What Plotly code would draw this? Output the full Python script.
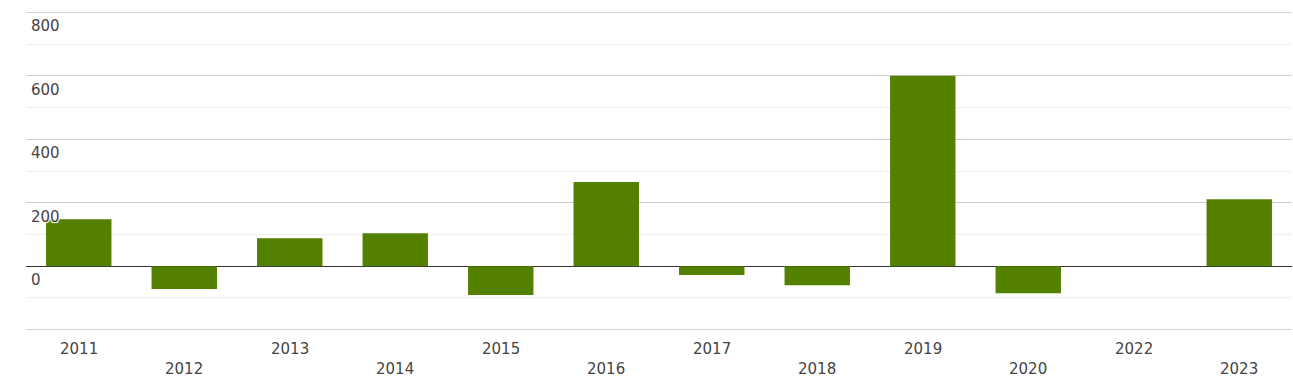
import plotly.graph_objects as go

years = ["2011", "2012", "2013", "2014", "2015", "2016", "2017", "2018", "2019", "2020", "2022", "2023"]
values = [148, -72, 88, 104, -91, 265, -28, -60, 600, -85, 0, 211]
y_ticks = [0, 200, 400, 600, 800]
y_range = [-200, 800]

bar_color = "#548000"
font_family = "DejaVu Sans, Verdana, sans-serif"

fig = go.Figure()
fig.add_trace(go.Bar(x=years, y=values, marker=dict(color=bar_color, line=dict(width=0)), width=0.62))

halo = "1px 1px 1px #fff, -1px -1px 1px #fff, 1px -1px 1px #fff, -1px 1px 1px #fff"
annotations = []
for v in y_ticks:
    annotations.append(dict(x=0, xref="paper", y=v, yref="y", text=str(v), showarrow=False,
                            xanchor="left", yanchor="middle", xshift=3, yshift=-14,
                            font=dict(family=font_family, size=15, color="#444", shadow=halo)))
for i, yr in enumerate(years):
    annotations.append(dict(x=i, xref="x", y=0, yref="paper", text=yr, showarrow=False,
                            xanchor="center", yanchor="middle", yshift=-19 - (20 if i % 2 else 0),
                            font=dict(family=font_family, size=15, color="#444")))

shapes = [dict(type="line", xref="paper", x0=0, x1=1, yref="y", y0=v, y1=v,
               line=dict(color="#cccccc", width=1), layer="below") for v in y_range]

fig.update_layout(
    width=1293, height=384,
    margin=dict(l=26, r=1, t=12, b=54),
    paper_bgcolor="white", plot_bgcolor="white",
    showlegend=False,
    bargap=0.38,
    annotations=annotations,
    shapes=shapes,
    xaxis=dict(type="category", showticklabels=False, showgrid=False, zeroline=False,
               range=[-0.5, len(years) - 0.5]),
    yaxis=dict(range=[-201, 801], tickvals=[-200, 0, 200, 400, 600, 800], showticklabels=False,
               showgrid=True, gridcolor="#cccccc", gridwidth=1,
               zeroline=True, zerolinecolor="#333333", zerolinewidth=1,
               minor=dict(tickvals=[-100, 100, 300, 500, 700], showgrid=True, gridcolor="#eeeeee", gridwidth=1)),
)

fig.write_html("out.html", config={"displayModeBar": False})
with open("out.html", encoding="utf-8") as f:
    html = f.read()
html = html.replace("<head>", "<head><style>html,body{margin:0;padding:0;overflow:hidden;}</style>", 1)
with open("out.html", "w", encoding="utf-8") as f:
    f.write(html)
